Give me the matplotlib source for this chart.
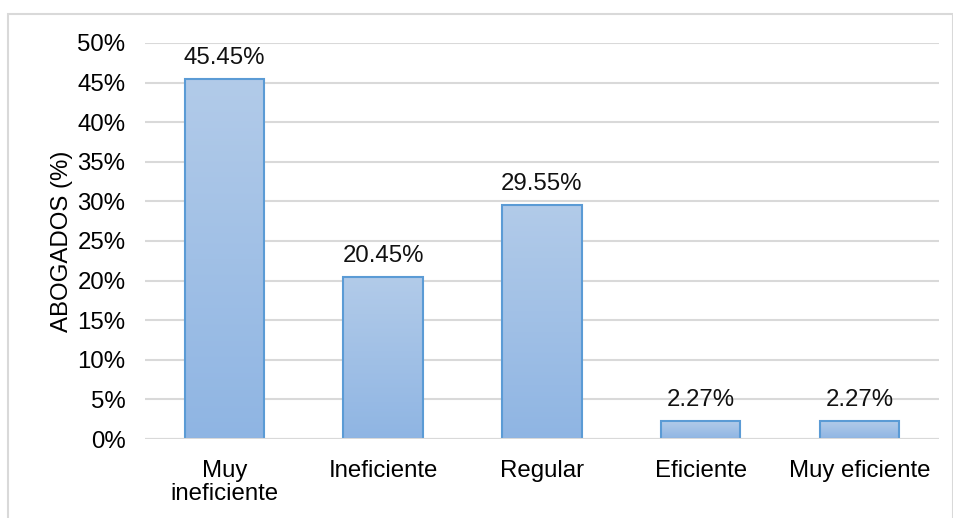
import numpy as np
import matplotlib.pyplot as plt
from matplotlib.colors import LinearSegmentedColormap
from matplotlib.patches import Rectangle
from matplotlib.ticker import PercentFormatter

plt.rcParams['font.family'] = ['Liberation Sans', 'DejaVu Sans']

# Datos
categorias = ['Muy\nineficiente', 'Ineficiente', 'Regular', 'Eficiente', 'Muy eficiente']
valores = [45.45, 20.45, 29.55, 2.27, 2.27]          # porcentaje de abogados
etiquetas = ['45.45%', '20.45%', '29.55%', '2.27%', '2.27%']
ticks_y = [0, 5, 10, 15, 20, 25, 30, 35, 40, 45, 50]

fs = 17.3

fig = plt.figure(figsize=(9.54, 5.18), dpi=100)
ax = fig.add_axes([0.152, 0.1525, 0.832, 0.7645])

# marco del gráfico
fig.patches.append(Rectangle((8 / 954, -0.1), 945 / 954, 1.1 - 14 / 518,
                             transform=fig.transFigure, fill=False,
                             edgecolor='#d9d9d9', linewidth=1.5))

grad = LinearSegmentedColormap.from_list('azul', ['#8fb5e3', '#b2cbe9'])
gradiente = np.linspace(0, 1, 256).reshape(-1, 1)
ancho = 0.5
x = np.arange(len(categorias))

for xi, v in zip(x, valores):
    ax.imshow(gradiente, cmap=grad, origin='lower', aspect='auto',
              extent=[xi - ancho / 2, xi + ancho / 2, 0, v], zorder=2)
barras = ax.bar(x, valores, width=ancho, facecolor='none',
                edgecolor='#5b9bd5', linewidth=1.5, zorder=3)

for xi, v, e in zip(x, valores, etiquetas):
    ax.annotate(e, (xi, v), xytext=(0, 7), textcoords='offset points',
                ha='center', va='bottom', fontsize=fs, color='#111111')

ax.set_xlim(-0.5, len(categorias) - 0.5)
ax.set_ylim(0, 50)
ax.set_yticks(ticks_y)
ax.yaxis.set_major_formatter(PercentFormatter(decimals=0))
ax.set_xticks(x)
ax.set_xticklabels(categorias, fontsize=fs, linespacing=1.05)
ax.tick_params(axis='y', labelsize=fs, length=0, pad=14)
ax.tick_params(axis='x', length=0, pad=15)
ax.set_ylabel('ABOGADOS (%)', fontsize=fs, labelpad=3)

ax.grid(axis='y', color='#d9d9d9', linewidth=1.5, zorder=0)
ax.set_axisbelow(True)
ax.axhline(0, color='#d9d9d9', linewidth=1.5, zorder=4)
for s in ax.spines.values():
    s.set_visible(False)

fig.savefig('out.png', dpi=100)
